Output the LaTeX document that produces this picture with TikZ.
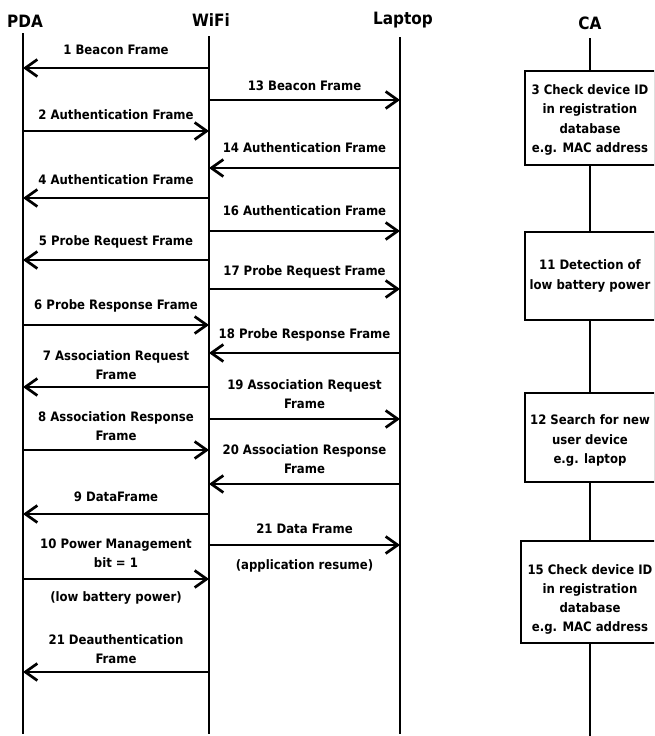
\documentclass[tikz,border=0pt]{standalone}
\usepackage{fontspec}
\setmainfont{DejaVu Sans Condensed}[BoldFont={DejaVu Sans Condensed Bold}]
\usetikzlibrary{arrows.meta,calc}

% one message: name, from lifeline, to lifeline, arrow y, label y, label text
\newcommand\msgline[6]{%
  \draw[msg] (#2 |- 0,#4) -- (#3 |- 0,#4);
  \node[lbl] (#1) at ($(#2 |- 0,#5)!.5!(#3 |- 0,#5)$) {#6};
}

\begin{document}
\begin{tikzpicture}[x=1pt,y=-1pt,
  lifeline/.style={line width=2.7pt},
  msg/.style={line width=2.7pt,-{Straight Barb[length=12pt,width=17pt]}},
  lbl/.style={font=\bfseries\fontsize{13}{19}\selectfont,align=center,inner sep=0pt},
  title/.style={font=\bfseries\fontsize{17}{19}\selectfont,inner sep=0pt},
  cabox/.style={draw,line width=2.7pt,fill=white,inner sep=0pt},
  catext/.style={align=center,inner sep=0pt,font=\bfseries\fontsize{13}{19.3}\selectfont}]
\clip (0,0) rectangle (654,736);

% participants
\node[title] (pda)    at (25,21)  {PDA};
\node[title] (wifi)   at (211,20) {WiFi};
\node[title] (laptop) at (403,20) {Laptop};
\node[title] (ca)     at (590,23) {CA};

% lifelines
\coordinate (pdaT) at (23,33);   \coordinate (pdaB) at (23,734);
\coordinate (wifiT) at (209,36); \coordinate (wifiB) at (209,734);
\coordinate (lapT) at (400,37);  \coordinate (lapB) at (400,734);
\coordinate (caT) at (590,38);   \coordinate (caB) at (590,740);
\draw[lifeline] (pdaT) -- (pdaB);
\draw[lifeline] (wifiT) -- (wifiB);
\draw[lifeline] (lapT) -- (lapB);
\draw[lifeline] (caT) -- (caB);

% PDA <-> WiFi
\msgline{m1}{wifiT}{pdaT}{68}{50}{1 Beacon Frame}
\msgline{m2}{pdaT}{wifiT}{131}{115}{2 Authentication Frame}
\msgline{m4}{wifiT}{pdaT}{198}{180}{4 Authentication Frame}
\msgline{m5}{wifiT}{pdaT}{260}{242}{5 Probe Request Frame}
\msgline{m6}{pdaT}{wifiT}{325}{306}{6 Probe Response Frame}
\msgline{m7}{wifiT}{pdaT}{387}{365.5}{7 Association Request\\Frame}
\msgline{m8}{pdaT}{wifiT}{450}{426}{8 Association Response\\Frame}
\msgline{m9}{wifiT}{pdaT}{514}{497}{9 DataFrame}
\msgline{m10}{pdaT}{wifiT}{579}{553.5}{10 Power Management\\bit = 1}
\msgline{m21d}{wifiT}{pdaT}{672}{649}{21 Deauthentication\\Frame}
\node[lbl] (n10) at ($(pdaT |- 0,598)!.5!(wifiT |- 0,598)$) {(low battery power)};

% WiFi <-> Laptop
\msgline{m13}{wifiT}{lapT}{100}{86}{13 Beacon Frame}
\msgline{m14}{lapT}{wifiT}{168}{148}{14 Authentication Frame}
\msgline{m16}{wifiT}{lapT}{231}{211}{16 Authentication Frame}
\msgline{m17}{wifiT}{lapT}{289}{272}{17 Probe Request Frame}
\msgline{m18}{lapT}{wifiT}{353}{335}{18 Probe Response Frame}
\msgline{m19}{wifiT}{lapT}{419}{394}{19 Association Request\\Frame}
\msgline{m20}{lapT}{wifiT}{484}{459.5}{20 Association Response\\Frame}
\msgline{m21}{wifiT}{lapT}{545}{529}{21 Data Frame}
\node[lbl] (n21) at ($(wifiT |- 0,566)!.5!(lapT |- 0,566)$) {(application resume)};

% CA processing steps: frame, then its text
\node[cabox,minimum width=130pt,minimum height=94pt] (s3) at (590,118) {};
\node[catext] (t3) at (590,120)
  {3 Check device ID\\in registration\\database\\e.g. MAC address};
\node[cabox,minimum width=130pt,minimum height=88pt] (s11) at (590,276) {};
\node[catext] (t11) at (590,276) {11 Detection of\\low battery power};
\node[cabox,minimum width=130pt,minimum height=89pt] (s12) at (590,437.5) {};
\node[catext] (t12) at (590,440.5) {12 Search for new\\user device\\e.g. laptop};
\node[cabox,minimum width=138pt,minimum height=102pt] (s15) at (590,592) {};
\node[catext] (t15) at (590,599.5)
  {15 Check device ID\\in registration\\database\\e.g. MAC address};
\end{tikzpicture}
\end{document}
